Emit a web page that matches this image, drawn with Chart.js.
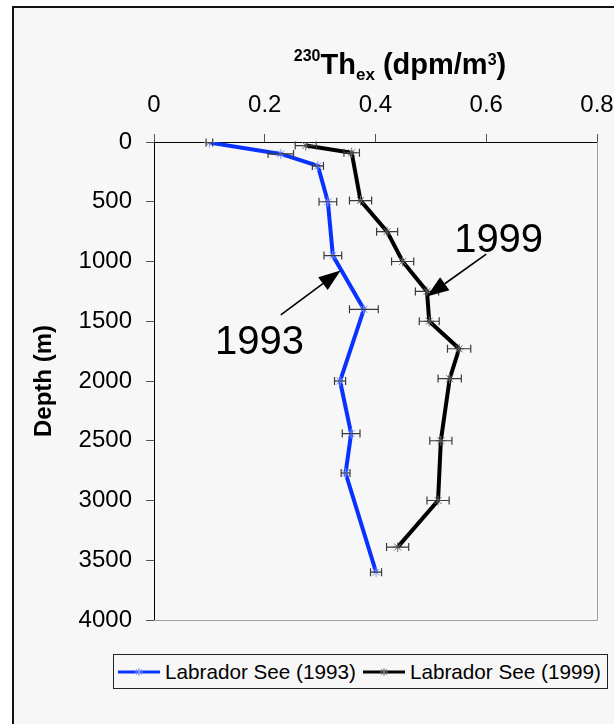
<!DOCTYPE html>
<html>
<head>
<meta charset="utf-8">
<title>230Th ex - Labrador See</title>
<script src="https://cdn.jsdelivr.net/npm/chart.js@4.4.1/dist/chart.umd.min.js"></script>
<style>
  html, body { margin:0; padding:0; width:614px; height:724px; overflow:hidden; background:#fff; }
  body { font-family:"Liberation Sans", Arial, sans-serif; color:#000; }
  #frame { position:absolute; left:12px; top:6px; width:700px; height:800px; border:2px solid #111; background:#f7f7f7; }
  #wrap { position:absolute; left:0; top:0; width:614px; height:724px; }
  #xTitle { position:absolute; left:0; top:50px; width:800px; text-align:center; font-weight:bold; font-size:29px; line-height:29px; white-space:nowrap; }
  #xTitle .sup { font-size:16px; position:relative; top:-13px; }
  #xTitle .sup2 { font-size:16px; position:relative; top:-9px; }
  #xTitle .sub { font-size:17px; position:relative; top:6px; }
  #legend { position:absolute; left:113px; top:654px; width:495px; height:35px; box-sizing:border-box;
            border:1.5px solid #222; background:#f7f7f7; display:flex; align-items:center; padding-left:4px; }
  #legend .item { display:flex; align-items:center; margin-right:7px; }
  #legend .item canvas { margin-right:5px; }
  #legend .item span { font-size:20.7px; white-space:nowrap; }
</style>
</head>
<body>
<div id="frame"></div>
<div id="wrap"><canvas id="chart" width="614" height="724"></canvas></div>
<div id="xTitle"><span class="sup">230</span>Th<span class="sub">ex</span> (dpm/m<span class="sup2">3</span>)</div>
<div id="legend"></div>

<script>
const $ = (id) => document.getElementById(id);

// --- data ---
const depth1993 = [5, 100, 200, 500, 950, 1400, 2000, 2440, 2770, 3600];
const th1993    = [0.100, 0.229, 0.296, 0.314, 0.323, 0.379, 0.336, 0.356, 0.346, 0.401];
const err1993   = [0.006, 0.023, 0.010, 0.016, 0.016, 0.026, 0.010, 0.016, 0.008, 0.010];

const depth1999 = [30, 90, 490, 750, 1000, 1250, 1500, 1730, 1980, 2500, 3000, 3390];
const th1999    = [0.274, 0.357, 0.373, 0.421, 0.449, 0.493, 0.497, 0.551, 0.534, 0.518, 0.513, 0.440];
const err1999   = [0.019, 0.014, 0.020, 0.019, 0.020, 0.021, 0.018, 0.021, 0.021, 0.020, 0.020, 0.020];

const seriesLabels = ["Labrador See (1993)", "Labrador See (1999)"];
const xTicks = [0, 0.2, 0.4, 0.6, 0.8];
const yTicks = [0, 500, 1000, 1500, 2000, 2500, 3000, 3500, 4000];

// callouts: text anchor + arrow (data units)
const callouts = [
  { text: "1999", tx: 0.542, ty: 918,  from: [0.600, 939],  to: [0.4927, 1293] },
  { text: "1993", tx: 0.110, ty: 1773, from: [0.229, 1446], to: [0.337, 1076] }
];

const FONT = '"Liberation Sans", Arial, sans-serif';
const pts = (xs, ys) => xs.map((v, i) => ({ x: v, y: ys[i] }));

/* =========================================================
   plugins
========================================================= */
const plotFrame = {
    id: "plotFrame",
    beforeDatasetsDraw(chart){
        const { ctx, chartArea: a } = chart;
        ctx.save();
        ctx.strokeStyle = "#a0a0a0";
        ctx.lineWidth = 1;
        ctx.beginPath();
        ctx.moveTo(a.right + 0.5, a.top);
        ctx.lineTo(a.right + 0.5, a.bottom + 0.5);
        ctx.lineTo(a.left, a.bottom + 0.5);
        ctx.stroke();
        ctx.restore();
    }
};

const errorBars = {
    id: "errorBars",
    afterDatasetsDraw(chart){
        const { ctx, scales: { x, y } } = chart;
        ctx.save();
        ctx.strokeStyle = "#3a3a3a";
        ctx.lineWidth = 1.2;
        chart.data.datasets.forEach(ds => {
            if(!ds.errors) return;
            ds.data.forEach((p, j) => {
                const e = ds.errors[j];
                const x0 = x.getPixelForValue(p.x - e);
                const x1 = x.getPixelForValue(p.x + e);
                const py = y.getPixelForValue(p.y);
                ctx.beginPath();
                ctx.moveTo(x0, py); ctx.lineTo(x1, py);
                ctx.moveTo(x0, py - 4); ctx.lineTo(x0, py + 4);
                ctx.moveTo(x1, py - 4); ctx.lineTo(x1, py + 4);
                ctx.stroke();
            });
        });
        ctx.restore();
    }
};

const calloutPlugin = {
    id: "callouts",
    afterDraw(chart){
        const { ctx, scales: { x, y } } = chart;
        ctx.save();
        ctx.fillStyle = "#000";
        ctx.strokeStyle = "#000";
        callouts.forEach(c => {
            ctx.font = `40px ${FONT}`;
            ctx.textAlign = "left";
            ctx.textBaseline = "alphabetic";
            ctx.fillText(c.text, x.getPixelForValue(c.tx), y.getPixelForValue(c.ty));

            const x0 = x.getPixelForValue(c.from[0]), y0 = y.getPixelForValue(c.from[1]);
            const x1 = x.getPixelForValue(c.to[0]),   y1 = y.getPixelForValue(c.to[1]);
            const ang = Math.atan2(y1 - y0, x1 - x0);
            const len = 22, half = 8;
            const bx = x1 - len * Math.cos(ang), by = y1 - len * Math.sin(ang);
            ctx.lineWidth = 1.6;
            ctx.beginPath();
            ctx.moveTo(x0, y0); ctx.lineTo(bx, by);
            ctx.stroke();
            ctx.beginPath();
            ctx.moveTo(x1, y1);
            ctx.lineTo(bx + half * Math.sin(ang), by - half * Math.cos(ang));
            ctx.lineTo(bx - half * Math.sin(ang), by + half * Math.cos(ang));
            ctx.closePath();
            ctx.fill();
        });
        ctx.restore();
    }
};

// keep the plot box fixed: no extra room for overhanging tick labels
const noLabelPadding = s => {
    s.paddingLeft = 0; s.paddingRight = 0;
    s.paddingTop = 0; s.paddingBottom = 0;
};

/* =========================================================
   chart
========================================================= */
const chart = new Chart($("chart"), {
    type: "scatter",
    data: {
        datasets: [
            {
                label: seriesLabels[0],
                data: pts(th1993, depth1993),
                errors: err1993,
                showLine: true,
                tension: 0,
                borderColor: "#0a32ff",
                borderWidth: 4,
                pointStyle: "star",
                pointRadius: 5,
                pointBorderColor: "#7d95ff",
                pointBackgroundColor: "#7d95ff",
                pointBorderWidth: 1
            },
            {
                label: seriesLabels[1],
                data: pts(th1999, depth1999),
                errors: err1999,
                showLine: true,
                tension: 0,
                borderColor: "#000",
                borderWidth: 4,
                pointStyle: "star",
                pointRadius: 5,
                pointBorderColor: "#707070",
                pointBackgroundColor: "#707070",
                pointBorderWidth: 1
            }
        ]
    },
    options: {
        responsive: false,
        animation: false,
        devicePixelRatio: 1,
        layout: { padding: { left: 0, top: 0, right: 17, bottom: 104 } },
        plugins: { legend: { display: false }, tooltip: { enabled: false } },
        scales: {
            x: {
                type: "linear",
                position: "top",
                min: 0, max: 0.8,
                afterBuildTicks: s => { s.ticks = xTicks.map(v => ({ value: v })); },
                afterFit: s => { s.height = 142; noLabelPadding(s); },
                grid: { drawOnChartArea: false, tickLength: 8, color: "#555" },
                border: { color: "#000", width: 1 },
                ticks: { padding: 14, color: "#000", maxRotation: 0, font: { family: FONT, size: 24 },
                         callback: v => String(v) }
            },
            y: {
                type: "linear",
                reverse: true,
                min: 0, max: 4000,
                afterBuildTicks: s => { s.ticks = yTicks.map(v => ({ value: v })); },
                afterFit: s => { s.width = 154; noLabelPadding(s); },
                grid: { drawOnChartArea: false, tickLength: 8, color: "#555" },
                border: { color: "#000", width: 1 },
                ticks: { padding: 14, color: "#000", font: { family: FONT, size: 24 },
                         callback: v => String(v) },
                title: { display: true, text: "Depth (m)", color: "#000",
                         font: { family: FONT, size: 24, weight: "bold" },
                         padding: { top: 30, bottom: 0 } }
            }
        }
    },
    plugins: [plotFrame, errorBars, calloutPlugin]
});

/* =========================================================
   HTML legend built from the datasets
========================================================= */
function legendSample(ds){
    const c = document.createElement("canvas");
    c.width = 42; c.height = 14;
    const g = c.getContext("2d");
    g.strokeStyle = ds.borderColor;
    g.lineWidth = 3;
    g.beginPath(); g.moveTo(0, 7); g.lineTo(42, 7); g.stroke();
    g.strokeStyle = ds.pointBorderColor;
    g.lineWidth = 1;
    Chart.helpers.drawPoint(g, { pointStyle: "star", radius: 4, borderWidth: 1 }, 21, 7);
    return c;
}

chart.data.datasets.forEach(ds => {
    const item = document.createElement("div");
    item.className = "item";
    item.appendChild(legendSample(ds));
    const s = document.createElement("span");
    s.textContent = ds.label;
    item.appendChild(s);
    $("legend").appendChild(item);
});
</script>
</body>
</html>
